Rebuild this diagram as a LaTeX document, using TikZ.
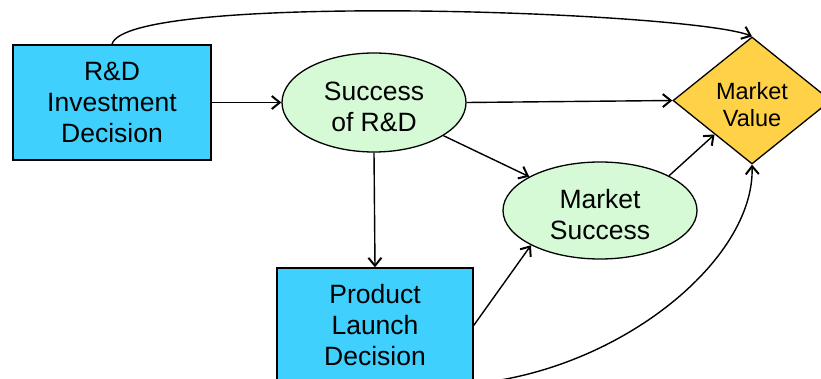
\documentclass[tikz,border=0pt]{standalone}
\usepackage{fontspec}
\setmainfont{Liberation Sans}
\usetikzlibrary{shapes.geometric,arrows.meta}
\definecolor{boxblue}{HTML}{3FD0FE}
\definecolor{ovalgreen}{HTML}{D6F9D6}
\definecolor{diamyellow}{HTML}{FFD147}
\newcommand{\lowerby}[1]{\rule{0pt}{#1}}
\tikzset{
  decbox/.style={draw=black, line width=1.3pt, fill=boxblue, rectangle, inner sep=0pt,
    align=center, font=\fontsize{26.5}{31}\selectfont},
  chancenode/.style={draw=black, line width=1.3pt, fill=ovalgreen, ellipse, inner sep=0pt,
    align=center, font=\fontsize{26.5}{31}\selectfont},
  valuenode/.style={draw=black, line width=1.3pt, fill=diamyellow, diamond, inner sep=0pt,
    align=center, font=\fontsize{23.5}{27}\selectfont},
  arc/.style={draw=black, line width=1.4pt, -{Straight Barb[length=8pt,width=13pt,line width=2pt]}},
}
\begin{document}
\begin{tikzpicture}[x=1pt,y=-1pt]
\useasboundingbox (0,0) rectangle (821,379);
\node[decbox, minimum width=198pt, minimum height=115pt] (rd) at (112,102.5) {R\&D\\Investment\\Decision};
\node[chancenode, minimum width=184pt, minimum height=99pt] (succ) at (374,102.5) {\lowerby{27.5pt}Success\\of R\&D};
\node[valuenode, minimum width=158pt, minimum height=127pt] (mv) at (752,100.5) {\lowerby{25.5pt}Market\\Value};
\node[chancenode, minimum width=194pt, minimum height=97pt] (ms) at (600,210.5) {\lowerby{27.5pt}Market\\Success};
\node[decbox, minimum width=196pt, minimum height=115pt] (pl) at (375,325.5) {Product\\Launch\\Decision};

\draw[arc] (rd.east) -- (succ.west);
\draw[arc] (succ.east) -- (mv.west);
\draw[arc] (succ) -- (ms);
\draw[arc] (succ.south) -- (pl.north);
\draw[arc] (pl.east) -- (ms.south west);
\draw[arc] (ms.north east) -- (mv);
\draw[arc] (rd.north) .. controls +(13,-53) and +(-62,-25) .. (mv.north);
\draw[arc] (pl.south east) .. controls +(147,-14) and +(3,95) .. (mv.south);
\end{tikzpicture}
\end{document}
